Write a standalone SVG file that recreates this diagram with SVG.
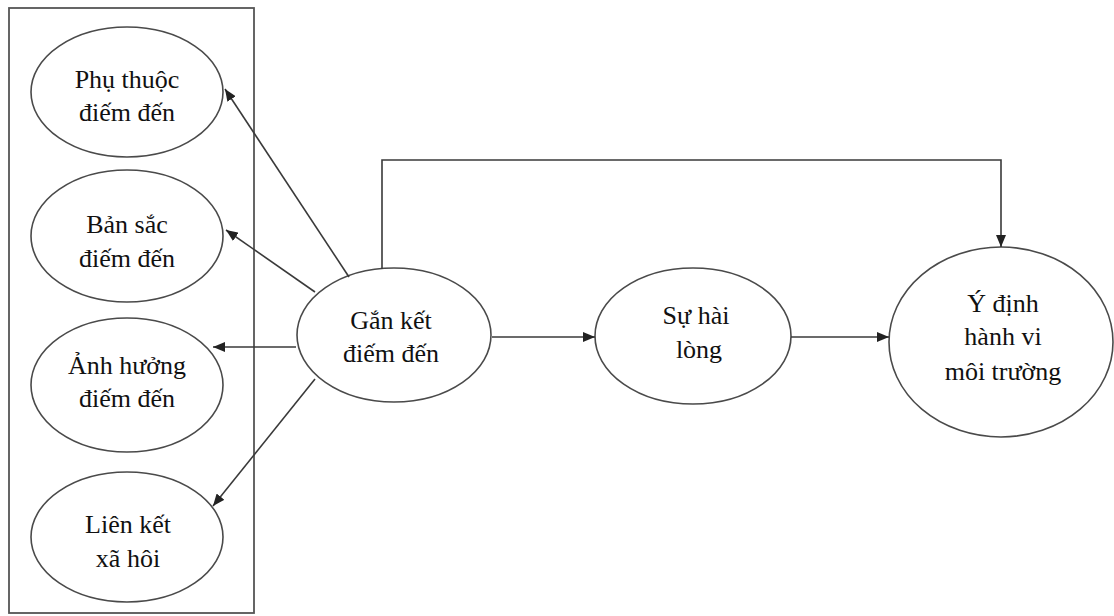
<svg xmlns="http://www.w3.org/2000/svg" width="1114" height="616" viewBox="0 0 1114 616">
<defs>
<style>
.n{fill:#fff;stroke:#4a4a4a;stroke-width:1.6}
.t{font-family:"Liberation Serif","Times New Roman",serif;font-size:26px;fill:#111;text-anchor:middle}
.c{fill:none;stroke:#3a3a3a;stroke-width:1.6}
.box{fill:none;stroke:#555;stroke-width:1.8}
</style>
<marker id="ah" viewBox="0 0 12 10" refX="12" refY="5" markerWidth="12" markerHeight="10" markerUnits="userSpaceOnUse" orient="auto">
<path d="M0,0 L12,5 L0,10 Z" fill="#222"/>
</marker>
</defs>
<rect width="1114" height="616" fill="#fff"/>
<rect class="box" x="9" y="8" width="245" height="605"/>
<g id="phu-thuoc">
<ellipse class="n" cx="127" cy="92" rx="96" ry="65"/>
<text class="t" x="127" y="88">Phụ thuộc</text>
<text class="t" x="127" y="121">điếm đến</text>
</g>
<g id="ban-sac">
<ellipse class="n" cx="127" cy="236" rx="96" ry="66"/>
<text class="t" x="127" y="233">Bản sắc</text>
<text class="t" x="127" y="267">điếm đến</text>
</g>
<g id="anh-huong">
<ellipse class="n" cx="127" cy="385" rx="96" ry="67"/>
<text class="t" x="127" y="374">Ảnh hưởng</text>
<text class="t" x="127" y="407">điếm đến</text>
</g>
<g id="lien-ket">
<ellipse class="n" cx="127" cy="537" rx="96" ry="65"/>
<text class="t" x="128" y="533">Liên kết</text>
<text class="t" x="128" y="567">xã hôi</text>
</g>
<g id="gan-ket">
<ellipse class="n" cx="394" cy="335" rx="97" ry="67"/>
<text class="t" x="391" y="329">Gắn kết</text>
<text class="t" x="391" y="362">điếm đến</text>
</g>
<g id="su-hai-long">
<ellipse class="n" cx="693" cy="336" rx="98" ry="68"/>
<text class="t" x="696" y="324">Sự hài</text>
<text class="t" x="699" y="358">lòng</text>
</g>
<g id="y-dinh">
<ellipse class="n" cx="1001" cy="342" rx="112" ry="95"/>
<text class="t" x="1003" y="312">Ý định</text>
<text class="t" x="1003" y="345">hành vi</text>
<text class="t" x="1003" y="380">môi trường</text>
</g>
<g id="connectors">
<line class="c" x1="349" y1="277" x2="225" y2="89" marker-end="url(#ah)"/>
<line class="c" x1="315" y1="292" x2="226" y2="230" marker-end="url(#ah)"/>
<line class="c" x1="296" y1="347" x2="213" y2="347" marker-end="url(#ah)"/>
<line class="c" x1="315" y1="379" x2="213" y2="506" marker-end="url(#ah)"/>
<line class="c" x1="492" y1="337" x2="595" y2="337" marker-end="url(#ah)"/>
<line class="c" x1="791" y1="337" x2="889" y2="337" marker-end="url(#ah)"/>
<polyline class="c" points="382,269 382,160 1001,160 1001,247" marker-end="url(#ah)"/>
</g>
</svg>
